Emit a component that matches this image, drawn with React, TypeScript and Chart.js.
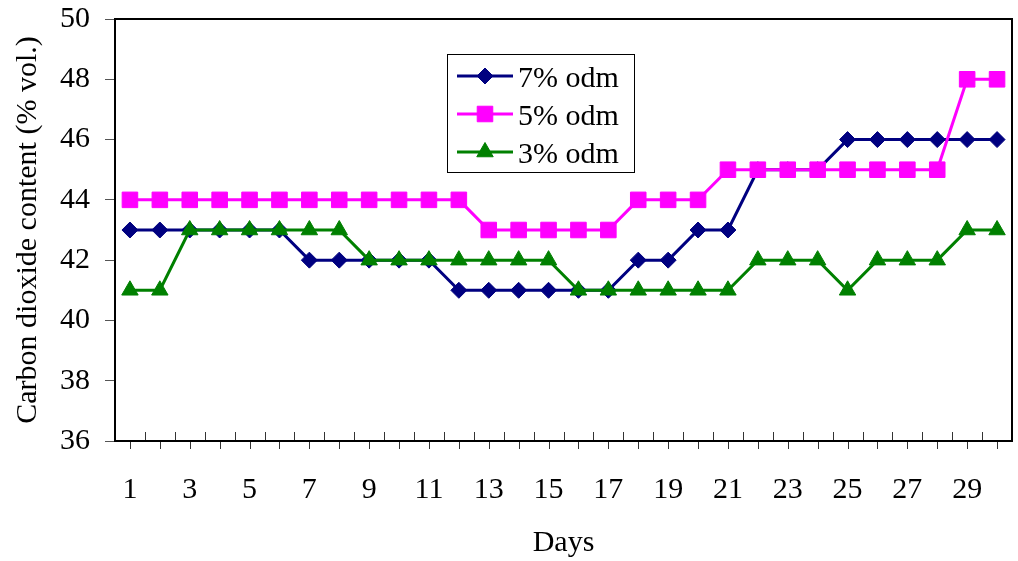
import React, { useEffect, useRef } from "react";
import { Chart, registerables } from "chart.js";
import { drawPoint } from "chart.js/helpers";

Chart.register(...registerables);

const days = Array.from({ length: 30 }, (_, i) => String(i + 1));
const odm7 = [43, 43, 43, 43, 43, 43, 42, 42, 42, 42, 42, 41, 41, 41, 41, 41, 41, 42, 42, 43, 43, 45, 45, 45, 46, 46, 46, 46, 46, 46];
const odm5 = [44, 44, 44, 44, 44, 44, 44, 44, 44, 44, 44, 44, 43, 43, 43, 43, 43, 44, 44, 44, 45, 45, 45, 45, 45, 45, 45, 45, 48, 48];
const odm3 = [41, 41, 43, 43, 43, 43, 43, 43, 42, 42, 42, 42, 42, 42, 42, 41, 41, 41, 41, 41, 41, 42, 42, 42, 41, 42, 42, 42, 43, 43];
const seriesLabels = ["7% odm", "5% odm", "3% odm"];
const seriesColors = ["#000080", "#FF00FF", "#008000"];
const seriesShapes = ["rectRot", "rect", "triangle"];
const seriesRadius = [8, 11, 9.5];
const yMin = 36;
const yMax = 50;
const yStep = 2;
const xTitle = "Days";
const yTitle = "Carbon dioxide content (% vol.)";

const FONT = "'Liberation Serif', 'Times New Roman', serif";

const framePlugin = {
  id: "frameAndTicks",
  afterDatasetsDraw(chart: any) {
    const { ctx, chartArea } = chart;
    const xs = chart.scales.x;
    ctx.save();
    // x-axis ticks: down at categories, up at boundaries
    ctx.strokeStyle = "#333";
    ctx.lineWidth = 1;
    const n = days.length;
    for (let i = 0; i < n; i++) {
      const px = Math.round(xs.getPixelForValue(i)) + 0.5;
      ctx.beginPath();
      ctx.moveTo(px, chartArea.bottom);
      ctx.lineTo(px, chartArea.bottom + 8);
      ctx.stroke();
      if (i > 0) {
        const bx = Math.round((xs.getPixelForValue(i - 1) + xs.getPixelForValue(i)) / 2) + 0.5;
        ctx.beginPath();
        ctx.moveTo(bx, chartArea.bottom - 9);
        ctx.lineTo(bx, chartArea.bottom);
        ctx.stroke();
      }
    }
    // frame
    ctx.strokeStyle = "#000";
    ctx.lineWidth = 2;
    ctx.strokeRect(chartArea.left, chartArea.top, chartArea.right - chartArea.left, chartArea.bottom - chartArea.top);

    // legend
    const lx = 447, ly = 54, lw = 187, lh = 118;
    ctx.fillStyle = "#fff";
    ctx.fillRect(lx, ly, lw, lh);
    ctx.strokeStyle = "#000";
    ctx.lineWidth = 1;
    ctx.strokeRect(lx + 0.5, ly + 0.5, lw, lh);
    const rows = [76, 114, 152];
    for (let k = 0; k < 3; k++) {
      const cy = rows[k];
      ctx.strokeStyle = seriesColors[k];
      ctx.lineWidth = 3;
      ctx.beginPath();
      ctx.moveTo(457, cy);
      ctx.lineTo(513, cy);
      ctx.stroke();
      ctx.fillStyle = seriesColors[k];
      ctx.strokeStyle = seriesColors[k];
      ctx.lineWidth = 1;
      drawPoint(ctx, { pointStyle: seriesShapes[k], radius: seriesRadius[k], rotation: 0, borderWidth: 1 }, 485, cy);
      ctx.fillStyle = "#000";
      ctx.font = "30px " + FONT;
      ctx.textBaseline = "alphabetic";
      ctx.textAlign = "left";
      ctx.fillText(seriesLabels[k], 518, cy + 11);
    }
    ctx.restore();
  },
};

export default function App() {
  const ref = useRef<HTMLCanvasElement>(null);
  useEffect(() => {
    document.body.style.margin = "0";
    const values = [odm7, odm5, odm3];
    const chart = new Chart(ref.current as HTMLCanvasElement, {
      type: "line",
      data: {
        labels: days,
        datasets: values.map((v, k) => ({
          label: seriesLabels[k],
          data: v,
          borderColor: seriesColors[k],
          backgroundColor: seriesColors[k],
          borderWidth: 3,
          pointStyle: seriesShapes[k] as any,
          pointRadius: seriesRadius[k],
          pointBorderWidth: 1,
          pointBackgroundColor: seriesColors[k],
          pointBorderColor: seriesColors[k],
          tension: 0,
          order: 2 - k,
        })),
      },
      options: {
        animation: false,
        responsive: false,
        events: [],
        layout: { autoPadding: false, padding: { top: 19, right: 6, left: 0, bottom: 0 } },
        plugins: { legend: { display: false }, tooltip: { enabled: false } },
        scales: {
          x: {
            type: "category",
            offset: true,
            grid: { display: false, drawTicks: true, tickLength: 31 },
            border: { display: false },
            ticks: {
              autoSkip: false,
              maxRotation: 0,
              padding: 0,
              color: "#000",
              font: { family: FONT, size: 30 },
              callback: (_v: any, i: number) => (i % 2 === 0 ? days[i] : ""),
            },
            title: {
              display: true,
              text: xTitle,
              color: "#000",
              font: { family: FONT, size: 30 },
              padding: { top: 0, bottom: 0 },
            },
            afterFit: (s: any) => {
              s.height = 120;
              s.paddingLeft = 0;
              s.paddingRight = 0;
            },
          },
          y: {
            min: yMin,
            max: yMax,
            grid: { drawOnChartArea: false, drawTicks: true, tickLength: 10, color: "#555" },
            border: { display: false },
            ticks: {
              stepSize: yStep,
              padding: 15,
              color: "#000",
              font: { family: FONT, size: 30 },
            },
            title: {
              display: true,
              text: yTitle,
              color: "#000",
              font: { family: FONT, size: 30 },
              padding: { top: 10, bottom: 0 },
            },
            afterFit: (s: any) => {
              s.width = 115;
              s.paddingTop = 0;
              s.paddingBottom = 0;
            },
          },
        },
      },
      plugins: [framePlugin],
    });
    return () => chart.destroy();
  }, []);
  return (
    <div style={{ position: "absolute", left: 0, top: 0, width: 1018, height: 561, background: "#fff" }}>
      <canvas ref={ref} width={1018} height={561} style={{ display: "block" }} />
    </div>
  );
}
